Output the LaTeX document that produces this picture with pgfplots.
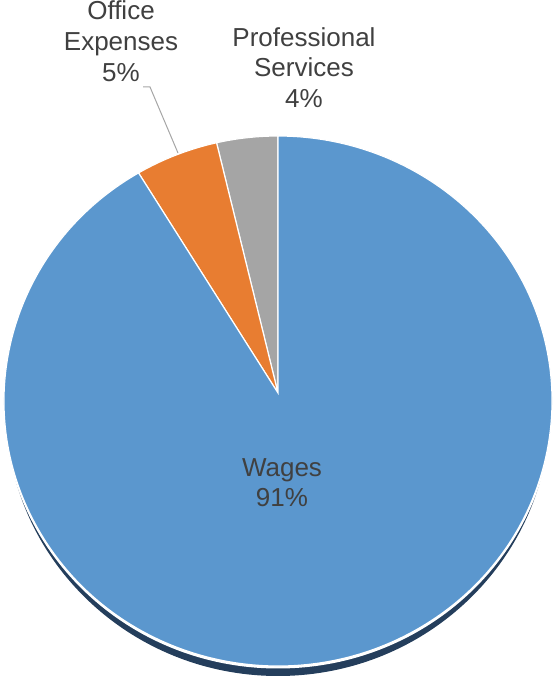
\documentclass[border=0pt]{standalone}
\usepackage{pgfplots}
\pgfplotsset{compat=1.18}
\usepackage{pgfplotstable}
\usepackage{fontspec}
\setmainfont{Liberation Sans}
\definecolor{cBlue}{RGB}{91,151,206}
\definecolor{cOrange}{RGB}{232,125,49}
\definecolor{cGray}{RGB}{165,165,165}
\definecolor{cShadow}{RGB}{36,62,92}
\definecolor{cText}{RGB}{64,64,64}
\definecolor{cLeader}{RGB}{166,166,166}

\pgfplotstableread{
label value
Professional 3.6
Office 4.9
Wages 91.5
}\piedata

\begin{document}%
\begin{tikzpicture}
\pgfplotstablegetelem{0}{value}\of\piedata \let\vA\pgfplotsretval
\pgfplotstablegetelem{1}{value}\of\piedata \let\vB\pgfplotsretval
\pgfplotstablegetelem{2}{value}\of\piedata \let\vC\pgfplotsretval
\pgfmathsetmacro\aZ{90}
\pgfmathsetmacro\aA{\aZ+3.6*\vA}
\pgfmathsetmacro\aB{\aA+3.6*\vB}
\pgfmathsetmacro\aC{\aB+3.6*\vC}
\begin{axis}[hide axis, scale only axis, width=556pt, height=678pt,
  xmin=0, xmax=556, ymin=0, ymax=678, clip=false]
\coordinate (ll) at (axis cs:0,0);
\coordinate (ur) at (axis cs:556,678);
% shadow
\fill[cShadow] (axis cs:278,268) ellipse[x radius=272pt, y radius=266pt];
\fill[white] (axis cs:278,276) ellipse[x radius=275pt, y radius=266.5pt];
% slices
\fill[cGray, draw=white, line width=1.2pt] (axis cs:278,277) ++(\aZ:274pt and 265pt)
  arc[start angle=\aZ, end angle=\aA, x radius=274pt, y radius=265pt] -- (axis cs:278,285) -- cycle;
\fill[cOrange, draw=white, line width=1.2pt] (axis cs:278,277) ++(\aA:274pt and 265pt)
  arc[start angle=\aA, end angle=\aB, x radius=274pt, y radius=265pt] -- (axis cs:278,285) -- cycle;
\fill[cBlue, draw=white, line width=1.2pt] (axis cs:278,277) ++(\aB:274pt and 265pt)
  arc[start angle=\aB, end angle=\aC, x radius=274pt, y radius=265pt] -- (axis cs:278,285) -- cycle;
% leader
\draw[cLeader, line width=1pt] (axis cs:143,591) -- (axis cs:150,591) -- (axis cs:178,525);
% labels
\begin{scope}[every node/.style={anchor=base, inner sep=0pt, text=cText, font=\fontsize{26}{31}\selectfont}]
\node at (axis cs:121,658) {Office};
\node at (axis cs:121,627) {Expenses};
\node at (axis cs:121,596) {5\%};
\node at (axis cs:304,631) {Professional};
\node at (axis cs:304,601) {Services};
\node at (axis cs:304,570) {4\%};
\node at (axis cs:282,201) {Wages};
\node at (axis cs:282,171) {91\%};
\end{scope}
\end{axis}
\pgfresetboundingbox
\useasboundingbox (ll) rectangle (ur);
\end{tikzpicture}%
\end{document}
